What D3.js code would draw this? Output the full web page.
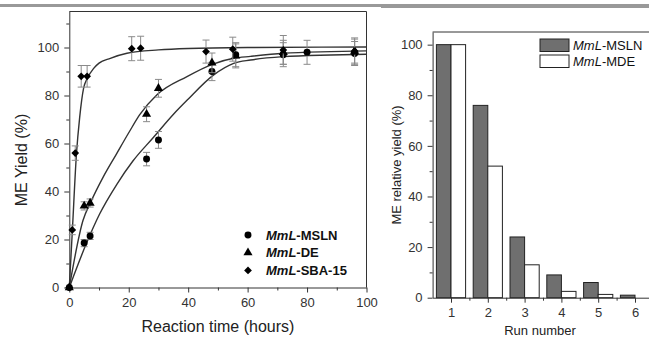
<!DOCTYPE html>
<html>
<head>
<meta charset="utf-8">
<script src="https://cdn.jsdelivr.net/npm/d3@7/dist/d3.min.js"></script>
<style>
  body { margin: 0; background: #fff; }
  svg { display: block; font-family: "Liberation Sans", Arial, sans-serif; }
</style>
</head>
<body>
<div id="viz"></div>
<script>
"use strict";

// left panel: measured points (time in hours, yield %, error)
var tMSLN = [0, 5, 7, 26, 30, 48, 56, 72, 80, 96];
var yMSLN = [0, 18.5, 21.5, 53.5, 61.5, 90, 97, 97, 98, 97.5];
var eMSLN = [0, 1.5, 1.5, 2.8, 3.5, 3.8, 5, 5, 5, 5];

var tDE = [0, 5, 7, 26, 30, 48, 56, 72, 96];
var yDE = [0, 34, 35.2, 72.2, 83, 93.6, 96.5, 98, 98.5];
var eDE = [0, 1.7, 1.7, 3.1, 3.7, 4.1, 5, 5, 5];

var tSBA = [0, 1, 2, 4, 6, 21, 24, 46, 55, 72, 96];
var ySBA = [0, 24, 56, 88, 88, 99.5, 99.7, 98.3, 99.3, 99, 98.5];
var eSBA = [0, 2, 3, 4.5, 4.5, 5, 5, 4.8, 5, 6, 5.5];

// fitted curves
var fitTMSLN = [0, 5.7, 10.2, 16, 21.4, 28.2, 34.9, 39.6, 48.6, 55.3, 61, 72, 88, 100];
var fitYMSLN = [0, 18.2, 30.6, 43, 52.7, 62.4, 72, 78, 88.6, 93.4, 94.8, 96.2, 96.9, 97.2];
var fitTDE = [0, 4.6, 7.4, 11.3, 15.8, 20.3, 23.7, 29.5, 39.6, 48.1, 55.3, 61, 72, 88, 100];
var fitYDE = [0, 27.9, 36.1, 45.8, 55.5, 65.1, 72, 80.3, 87.9, 93, 95.5, 96.3, 97.6, 98.3, 98.6];
var fitTSBA = [0, 1, 2.4, 3.5, 4.8, 6, 8.2, 10, 13.8, 19.4, 30, 40, 60, 100];
var fitYSBA = [0, 23, 55.5, 71, 83, 87, 91.3, 93.5, 95.5, 97.6, 99, 99.6, 100, 100.2];

var seriesNames = ["-MSLN", "-DE", "-SBA-15"];

// right panel: reuse runs
var runs = [1, 2, 3, 4, 5, 6];
var barMSLN = [100, 76, 24, 9, 6, 1];
var barMDE = [100, 52, 13, 2.5, 1.3, 0];
var barNames = ["-MSLN", "-MDE"];

var W = 649, H = 337;
var axisColor = "#333";

var svg = d3.select("#viz").append("svg")
	.attr("width", W)
	.attr("height", H);

// grey rule at the very top
svg.append("rect").attr("x", 0).attr("y", 4).attr("width", 381).attr("height", 3).attr("fill", "#999");
svg.append("rect").attr("x", 381).attr("y", 4).attr("width", 268).attr("height", 4).attr("fill", "#999");

var zip = function(ts, ys, es) {
	return ts.map(function(t, i) { return { t: t, v: ys[i], e: es ? es[i] : 0 } });
};

// ---------- left panel ----------
var x1 = d3.scaleLinear().domain([0, 100]).range([69.3, 366.5]);
var y1 = d3.scaleLinear().domain([0, 115]).range([287.5, 11.5]);

var left = svg.append("g");

var drawAxes = function(g, xs, ys, xTicks, xMinor, yTicks, yMinor, bottomY, leftX) {
	g.append("g")
		.attr("transform", "translate(0," + bottomY + ")")
		.call(d3.axisBottom(xs).tickValues(xTicks).tickFormat(d3.format("d")).tickSize(5).tickPadding(5).tickSizeOuter(0));
	g.append("g")
		.attr("transform", "translate(0," + bottomY + ")")
		.call(d3.axisBottom(xs).tickValues(xMinor).tickSize(3).tickFormat("").tickSizeOuter(0))
		.select(".domain").remove();
	g.append("g")
		.attr("transform", "translate(" + leftX + ",0)")
		.call(d3.axisLeft(ys).tickValues(yTicks).tickFormat(d3.format("d")).tickSize(5).tickPadding(5).tickSizeOuter(0));
	g.append("g")
		.attr("transform", "translate(" + leftX + ",0)")
		.call(d3.axisLeft(ys).tickValues(yMinor).tickSize(3).tickFormat("").tickSizeOuter(0))
		.select(".domain").remove();
	g.selectAll(".domain, .tick line").attr("stroke", axisColor).attr("stroke-width", 1);
	g.selectAll(".tick text").attr("fill", "#333").attr("font-size", "13px")
		.attr("font-family", "Liberation Sans, Arial, sans-serif");
};

drawAxes(left, x1, y1, [0, 20, 40, 60, 80, 100], [10, 30, 50, 70, 90],
	[0, 20, 40, 60, 80, 100], [10, 30, 50, 70, 90, 110], 287.5, 69.3);

// frame top and right
left.append("path")
	.attr("d", "M" + x1(0) + "," + y1(115) + "H" + x1(100) + "V" + y1(0))
	.attr("fill", "none")
	.attr("stroke", axisColor);

var line1 = d3.line()
	.x(function(d) { return x1(d.t) })
	.y(function(d) { return y1(d.v) })
	.curve(d3.curveMonotoneX);

[[fitTMSLN, fitYMSLN], [fitTDE, fitYDE], [fitTSBA, fitYSBA]].forEach(function(f) {
	left.append("path")
		.attr("d", line1(zip(f[0], f[1])))
		.attr("fill", "none")
		.attr("stroke", "#333")
		.attr("stroke-width", 1.4);
});

// circle, triangle, and a square turned 45 degrees for the diamond
var symbols = [
	d3.symbol().type(d3.symbolCircle).size(38),
	d3.symbol().type(d3.symbolTriangle).size(36),
	d3.symbol().type(d3.symbolSquare).size(30)
];
var symbolRotate = [0, 0, 45];

var pointSets = [zip(tMSLN, yMSLN, eMSLN), zip(tDE, yDE, eDE), zip(tSBA, ySBA, eSBA)];

pointSets.forEach(function(pts, si) {
	var g = left.append("g");
	// error bars
	var eb = g.selectAll("g.err").data(pts.filter(function(d) { return d.e > 0 }))
		.enter().append("g").attr("class", "err")
		.attr("stroke", "#8a8a8a").attr("stroke-width", 1);
	eb.append("line")
		.attr("x1", function(d) { return x1(d.t) }).attr("x2", function(d) { return x1(d.t) })
		.attr("y1", function(d) { return y1(d.v + d.e) }).attr("y2", function(d) { return y1(d.v - d.e) });
	eb.append("line")
		.attr("x1", function(d) { return x1(d.t) - 3.5 }).attr("x2", function(d) { return x1(d.t) + 3.5 })
		.attr("y1", function(d) { return y1(d.v + d.e) }).attr("y2", function(d) { return y1(d.v + d.e) });
	eb.append("line")
		.attr("x1", function(d) { return x1(d.t) - 3.5 }).attr("x2", function(d) { return x1(d.t) + 3.5 })
		.attr("y1", function(d) { return y1(d.v - d.e) }).attr("y2", function(d) { return y1(d.v - d.e) });
	g.selectAll("path.pt").data(pts)
		.enter().append("path").attr("class", "pt")
		.attr("d", symbols[si])
		.attr("transform", function(d) {
			return "translate(" + x1(d.t) + "," + y1(d.v) + ") rotate(" + symbolRotate[si] + ")"
		})
		.attr("fill", "#000");
});

// left legend
var leg1 = left.append("g");
seriesNames.forEach(function(name, i) {
	var yy = 235 + i * 17.7;
	leg1.append("path").attr("d", symbols[i]).attr("fill", "#000")
		.attr("transform", "translate(248," + yy + ") rotate(" + symbolRotate[i] + ")");
	var tx = leg1.append("text").attr("x", 266).attr("y", yy + 4.5)
		.attr("font-size", "13px").attr("font-weight", "bold").attr("fill", "#111");
	tx.append("tspan").attr("font-style", "italic").text("MmL");
	tx.append("tspan").text(name);
});

left.append("text")
	.attr("x", x1(50)).attr("y", 332)
	.attr("text-anchor", "middle")
	.attr("font-size", "16px").attr("fill", "#222")
	.text("Reaction time (hours)");
left.append("text")
	.attr("transform", "translate(27,160) rotate(-90)")
	.attr("text-anchor", "middle")
	.attr("font-size", "16px").attr("fill", "#222")
	.text("ME Yield (%)");

// ---------- right panel ----------
var x2 = d3.scaleLinear().domain([0.5, 6.5]).range([432.6, 653.4]);
var y2 = d3.scaleLinear().domain([0, 105]).range([297.7, 32]);
var bw = 14.6;

var right = svg.append("g");

var bars = runs.map(function(r, i) { return { r: r, a: barMSLN[i], b: barMDE[i] } });

right.selectAll("rect.a").data(bars).enter().append("rect").attr("class", "a")
	.attr("x", function(d) { return x2(d.r) - bw })
	.attr("y", function(d) { return y2(d.a) })
	.attr("width", bw)
	.attr("height", function(d) { return y2(0) - y2(d.a) })
	.attr("fill", "#6f6f6f")
	.attr("stroke", "#222").attr("stroke-width", 1);

right.selectAll("rect.b").data(bars.filter(function(d) { return d.b > 0 })).enter().append("rect").attr("class", "b")
	.attr("x", function(d) { return x2(d.r) })
	.attr("y", function(d) { return y2(d.b) })
	.attr("width", bw)
	.attr("height", function(d) { return y2(0) - y2(d.b) })
	.attr("fill", "#fff")
	.attr("stroke", "#222").attr("stroke-width", 1);

drawAxes(right, x2, y2, runs, [1.5, 2.5, 3.5, 4.5, 5.5], [0, 20, 40, 60, 80, 100], [10, 30, 50, 70, 90], 297.7, 432.6);

right.append("line")
	.attr("x1", x2(0.5)).attr("x2", W)
	.attr("y1", y2(105)).attr("y2", y2(105))
	.attr("stroke", axisColor);

// right legend
var leg2 = right.append("g");
barNames.forEach(function(name, i) {
	var yy = 39 + i * 16;
	leg2.append("rect").attr("x", 540).attr("y", yy).attr("width", 29).attr("height", 12.5)
		.attr("fill", i === 0 ? "#6f6f6f" : "#fff").attr("stroke", "#222");
	var tx = leg2.append("text").attr("x", 573).attr("y", yy + 11)
		.attr("font-size", "13px").attr("fill", "#111");
	tx.append("tspan").attr("font-style", "italic").text("MmL");
	tx.append("tspan").text(name);
});

right.append("text")
	.attr("x", 540).attr("y", 334.5)
	.attr("text-anchor", "middle")
	.attr("font-size", "13px").attr("fill", "#222")
	.text("Run number");
right.append("text")
	.attr("transform", "translate(401,165) rotate(-90)")
	.attr("text-anchor", "middle")
	.attr("font-size", "13px").attr("fill", "#222")
	.text("ME relative yield (%)");
</script>
</body>
</html>
